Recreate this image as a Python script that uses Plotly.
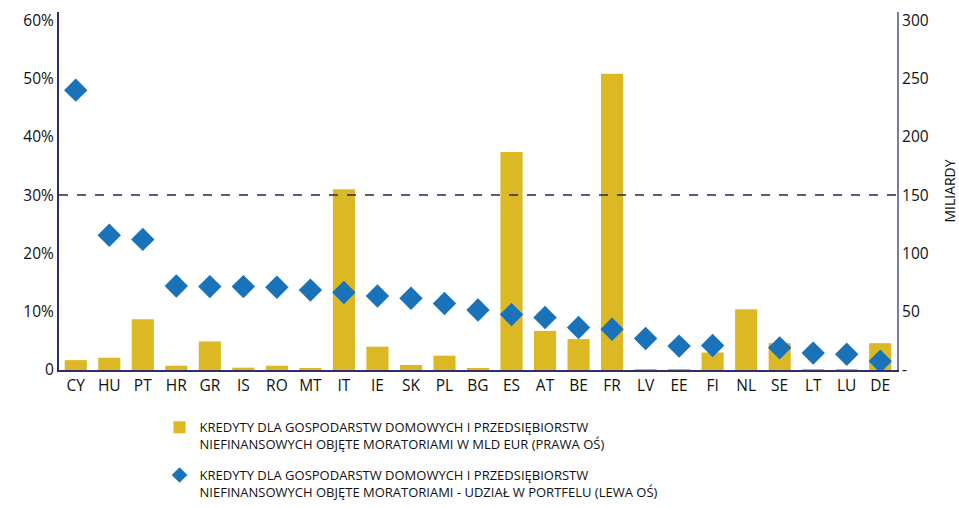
import plotly.graph_objects as go

# Country codes along the x axis
countries = ["CY", "HU", "PT", "HR", "GR", "IS", "RO", "MT", "IT", "IE", "SK", "PL", "BG",
             "ES", "AT", "BE", "FR", "LV", "EE", "FI", "NL", "SE", "LT", "LU", "DE"]

# Loans under moratoria, EUR bn (right axis)
loans_bn = [8.5, 10.5, 43.5, 3.7, 24.5, 2.0, 3.7, 1.2, 155, 20, 4.3, 12.3, 1.4,
            187, 33.5, 26.5, 254, 0.6, 0.6, 15, 52, 23, 0.6, 0.6, 23]

# Loans under moratoria, share of portfolio in % (left axis)
share_pct = [48.0, 23.1, 22.4, 14.4, 14.3, 14.3, 14.2, 13.7, 13.3, 12.7, 12.3, 11.4, 10.3,
             9.5, 9.0, 7.3, 7.0, 5.4, 4.1, 4.2, None, 3.8, 2.9, 2.7, 1.5]

# Reference level drawn as a dashed line (left axis, %)
threshold_pct = 30

left_ticks = [0, 10, 20, 30, 40, 50, 60]
left_ticktext = ["0", "10%", "20%", "30%", "40%", "50%", "60%"]
right_ticks = [0, 50, 100, 150, 200, 250, 300]
right_ticktext = ["-", "50", "100", "150", "200", "250", "300"]

bar_name = "KREDYTY DLA GOSPODARSTW DOMOWYCH I PRZEDSIĘBIORSTW<br>NIEFINANSOWYCH OBJĘTE MORATORIAMI W MLD EUR (PRAWA OŚ)"
dot_name = "KREDYTY DLA GOSPODARSTW DOMOWYCH I PRZEDSIĘBIORSTW<br>NIEFINANSOWYCH OBJĘTE MORATORIAMI - UDZIAŁ W PORTFELU (LEWA OŚ)"

fig = go.Figure()
fig.add_trace(go.Bar(
    x=countries, y=loans_bn, name=bar_name, legendgroup="bn",
    marker=dict(color="#dcb824", line=dict(width=0)),
    yaxis="y",
))
fig.add_trace(go.Scatter(
    x=countries, y=share_pct, name=dot_name, legendgroup="pct", mode="markers",
    marker=dict(symbol="diamond", size=18, color="#1a72b8"),
    yaxis="y2",
))

tick_font = dict(family="'Open Sans', sans-serif", size=15.5, color="#111111")
fig.update_layout(
    width=959, height=508,
    margin=dict(l=59, r=62, t=12, b=138, autoexpand=False),
    paper_bgcolor="white", plot_bgcolor="white",
    bargap=0.34,
    showlegend=True,
    legend=dict(
        x=0.12, y=-0.118, xanchor="left", yanchor="top",
        font=dict(family="'Open Sans', sans-serif", size=13, color="#111111"),
        valign="top", tracegroupgap=11, itemsizing="constant",
        bgcolor="rgba(0,0,0,0)",
    ),
    xaxis=dict(
        showgrid=False, ticks="", showline=True, linecolor="#2e2e6e", linewidth=2,
        tickfont=tick_font, range=[-0.5, len(countries) - 0.5],
    ),
    yaxis=dict(
        side="right", range=[0, 307], showgrid=False, zeroline=False,
        showline=True, linecolor="#7a7aa6", linewidth=2, ticks="",
        tickvals=right_ticks, ticktext=right_ticktext, tickfont=tick_font,
        title=dict(text="MILIARDY", standoff=40,
                   font=dict(family="'Open Sans', sans-serif", size=14, color="#111111")),
    ),
    yaxis2=dict(
        side="left", overlaying="y", range=[0, 61.4], showgrid=False, zeroline=False,
        showline=True, linecolor="#2e2e6e", linewidth=2, ticks="",
        tickvals=left_ticks, ticktext=left_ticktext, tickfont=tick_font,
    ),
    shapes=[dict(
        type="line", xref="paper", x0=0, x1=1, yref="y2", y0=threshold_pct, y1=threshold_pct,
        line=dict(color="#262650", width=1.5, dash="dash"),
    )],
)

fig.write_html("out.html")
